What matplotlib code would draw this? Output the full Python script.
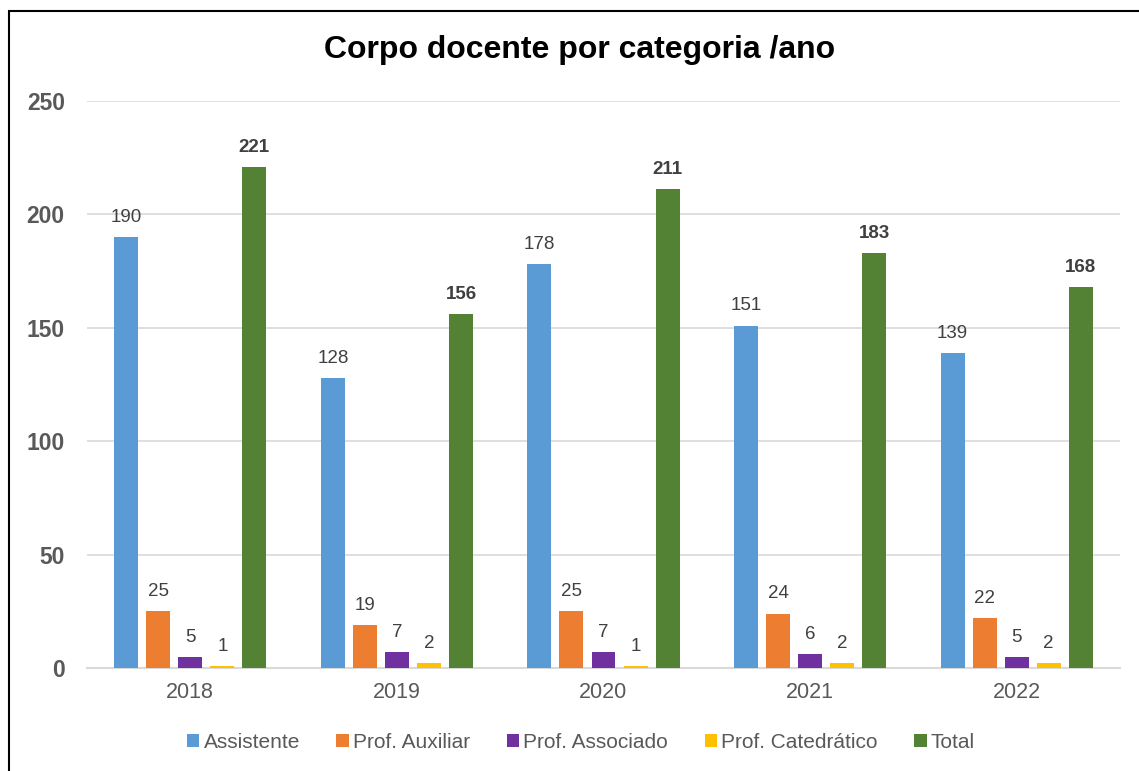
import matplotlib.pyplot as plt
import numpy as np
from matplotlib.patches import Rectangle

plt.rcParams['font.family'] = ['Liberation Sans', 'DejaVu Sans']

# Data
years = ["2018", "2019", "2020", "2021", "2022"]
series_names = ["Assistente", "Prof. Auxiliar", "Prof. Associado", "Prof. Catedrático", "Total"]
assistente = [190, 128, 178, 151, 139]
auxiliar = [25, 19, 25, 24, 22]
associado = [5, 7, 7, 6, 5]
catedratico = [1, 2, 1, 2, 2]
total = [221, 156, 211, 183, 168]
colors = ["#5B9BD5", "#ED7D31", "#7030A0", "#FFC000", "#548235"]

series = [assistente, auxiliar, associado, catedratico, total]

fig = plt.figure(figsize=(11.39, 7.71), dpi=100)
ax = fig.add_axes([87 / 1139, 1 - 668 / 771, (1120 - 87) / 1139, (668 - 101) / 771])

x = np.arange(len(years))
step = 0.155
width = 0.116
for i, (vals, name, c) in enumerate(zip(series, series_names, colors)):
    pos = x + (i - 2) * step
    bars = ax.bar(pos, vals, width, color=c, label=name, zorder=3)
    is_total = name == "Total"
    for b, v in zip(bars, vals):
        ax.annotate(str(v), (b.get_x() + b.get_width() / 2, v),
                    xytext=(0, 8), textcoords="offset points",
                    ha="center", va="bottom", fontsize=13.5,
                    color="#404040", fontweight="bold" if is_total else "normal")

ax.set_xlim(-0.5, 4.5)
ax.set_ylim(0, 250)
ax.set_yticks(range(0, 251, 50))
ax.set_xticks(x)
ax.set_xticklabels(years)
ax.grid(axis="y", color="#D9D9D9", linewidth=1.2, zorder=0)
for s in ["top", "right", "left"]:
    ax.spines[s].set_visible(False)
ax.spines["bottom"].set_color("#D9D9D9")
ax.spines["bottom"].set_linewidth(1.5)
ax.tick_params(axis="both", length=0)
ax.tick_params(axis="x", labelsize=15.5, labelcolor="#595959", pad=10)
ax.tick_params(axis="y", labelsize=16.5, labelcolor="#595959", pad=16)
for t in ax.get_yticklabels():
    t.set_fontweight("bold")

fig.text(580 / 1139, 1 - 50 / 771, "Corpo docente por categoria /ano",
         ha="center", va="center", fontsize=23, fontweight="bold", color="black")

leg = fig.legend(loc="center", bbox_to_anchor=(581 / 1139, 1 - 742 / 771), ncol=5,
                 frameon=False, fontsize=15, handlelength=0.6, handleheight=0.6,
                 handletextpad=0.2, columnspacing=1.75)
for t in leg.get_texts():
    t.set_color("#595959")

# outer frame
fig.patches.append(Rectangle((8.5 / 1139, -0.1), 1.2, 1 - 11.5 / 771 + 0.1,
                             transform=fig.transFigure, fill=False,
                             edgecolor="black", linewidth=1.5))

fig.savefig("out.png", dpi=100)
